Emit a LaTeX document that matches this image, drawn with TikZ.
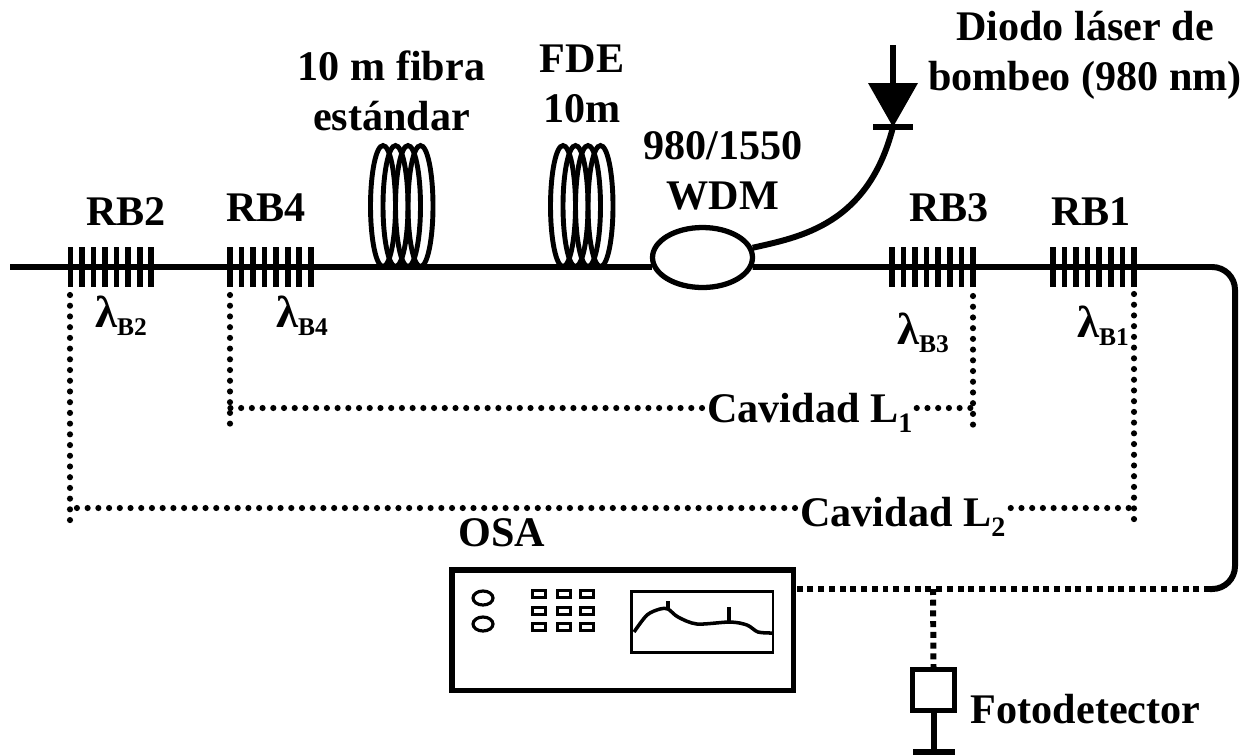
\documentclass[tikz,border=0pt]{standalone}
\usepackage{fontspec}
\setmainfont{Liberation Serif}
\usetikzlibrary{positioning,shapes.geometric,calc}
\newcommand{\subi}[1]{\raisebox{-2.1mm}{\fontsize{16}{16}\selectfont #1}}
\newcommand{\lamb}[1]{{\fontsize{25.5}{25.5}\selectfont λ}\raisebox{-1.5mm}{\fontsize{14.5}{14.5}\selectfont B#1}}

\begin{document}
\begin{tikzpicture}[
  x=0.02cm, y=-0.02cm,
  font=\fontsize{24}{28.7}\selectfont\bfseries,
  lab/.style={align=center, inner sep=0pt},
  fibra/.style={draw=black, line width=3.4pt},
  barra/.style={draw=black, line width=3.2pt},
  puntos/.style={draw=black, line width=3.5pt, line cap=round, dash pattern=on 0pt off 6.1pt},
  cuadros/.style={draw=black, line width=3.4pt, dash pattern=on 3.4pt off 2.7pt},
  espira/.style={draw=black, ellipse, line width=2.8pt, minimum width=5mm, minimum height=24.2mm, inner sep=0pt},
  boton/.style={draw=black, ellipse, line width=1.8pt, minimum width=4mm, minimum height=2.8mm, inner sep=0pt},
  tecla/.style={draw=black, line width=1.8pt, minimum width=2.6mm, minimum height=1.4mm, inner sep=0pt}
]
\useasboundingbox (0,0) rectangle (1246,755);

\coordinate (ini) at (10,267);
\coordinate (esq1) at (1235,267);
\coordinate (esq2) at (1235,589);
\coordinate (finS) at (1210,589);
\coordinate (osaS) at (796,589);
\coordinate (tee) at (933,589);
\coordinate (dioT) at (893,45);
\coordinate (dioP) at (893,127);

\node[draw=black, ellipse, line width=3pt, minimum width=20mm, minimum height=12mm, inner sep=0pt] (wdm) at (702.5,257.5) {};
\draw[fibra] (ini) -- (ini -| wdm.191);
\draw[fibra, rounded corners=13pt] (ini -| wdm.-11) -- (esq1) -- (esq2) -- (finS);
\draw[cuadros] (finS) -- (osaS);
\draw[fibra] (wdm.11) .. controls (800,237) and (868,225) .. (dioP);

\foreach \g/\x in {rb2/70.4, rb4/230, rb3/892, rb1/1053} {
  \coordinate (\g) at (\x,267);
  \foreach \i in {0,...,7} \draw[barra] ($(\g)+(\i*11.55,-20)$) -- ++(0,40);
}
\coordinate (rb2a) at (70,295);
\coordinate (rb2b) at (70,528);
\coordinate (rb4a) at (230,295);
\coordinate (rb4b) at (230,426);
\coordinate (rb3a) at (973,296);
\coordinate (rb3b) at (973,426);
\coordinate (rb1a) at (1134,294);
\coordinate (rb1b) at (1134,528);

\foreach \c/\x in {a/383, b/563} \foreach \i in {0,...,3}
  \node[espira] (\c\i) at ($(\x,206)+(\i*12.5,0)$) {};

\node[lab] (trb2) at (126,212) {RB2};
\node[lab] (trb4) at (266,208) {RB4};
\node[lab] (trb3) at (949,208) {RB3};
\node[lab] (trb1) at (1091,212) {RB1};
\node[lab] (tstd) at (391.5,91) {10 m fibra\\estándar};
\node[lab] (tfde) at (582,84) {FDE\\10m};
\node[lab] (twdm) at (723,171) {980/1550\\WDM};
\node[lab] (tdio) at (1085,55.5) {Diodo láser de\\bombeo (980 nm)};
\node[lab] (tosa) at (502,533) {OSA};
\node[lab] (tfot) at (1085.7,709) {Fotodetector};

\node[lab] (l2) at (121,316) {\lamb{2}};
\node[lab] (l4) at (302,316) {\lamb{4}};
\node[lab] (l3) at (923,333) {\lamb{3}};
\node[lab] (l1) at (1103,326) {\lamb{1}};

\node[lab, anchor=base west] (cav1) at (707,422) {Cavidad L\subi{1}};
\node[lab, anchor=base west] (cav2) at (800,526) {Cavidad L\subi{2}};

\draw[puntos] (rb2a) -- (rb2b);
\draw[puntos] (rb4a) -- (rb4b);
\draw[puntos] (rb3a) -- (rb3b);
\draw[puntos] (rb1a) -- (rb1b);
\coordinate (c1i) at ($(cav1.base west)+(-5,-14)$);
\coordinate (c1d) at ($(cav1.base east)+(4,-14)$);
\coordinate (c2i) at ($(cav2.base west)+(-5,-18)$);
\coordinate (c2d) at ($(cav2.base east)+(5,-18)$);
\draw[puntos] (c1i) -- (rb4a |- c1i);
\draw[puntos] (c1d) -- (rb3a |- c1d);
\draw[puntos] (c2i) -- (rb2a |- c2i);
\draw[puntos] (c2d) -- (rb1a |- c2d);

\draw[barra] (dioT) -- ++(0,40);
\fill[black] (868,83) -- (918,83) -- (dioP) -- cycle;
\draw[barra] (873,127) -- (913,127);

\node[draw=black, line width=3.1pt, minimum width=68.3mm, minimum height=24.1mm, inner sep=0pt] (osa) at (622.5,630) {};
\node[boton] (b1) at (483,598) {};
\node[boton] (b2) at (483,624) {};
\foreach \f/\y in {1/594, 2/611, 3/627} \foreach \k/\x in {1/539, 2/564, 3/587}
  \node[tecla] (t\f\k) at (\x,\y) {};
\node[draw=black, line width=1.7pt, minimum width=28.4mm, minimum height=12.2mm, inner sep=0pt] (pant) at (702,621.5) {};
\draw[black, line width=2pt] plot[smooth] coordinates {(634,632) (647,615) (660,609) (668,609) (678,617) (697,624) (730,622) (747,625) (758,632) (772,633)};
\draw[black, line width=2pt] (668,609) -- (668,601);
\draw[black, line width=2pt] (729,622) -- (729,607);

\node[draw=black, line width=3pt, minimum width=8.3mm, minimum height=8.15mm, inner sep=0pt] (det) at (933.5,690) {};
\coordinate (detB) at (933.5,752);
\draw[cuadros] (tee) -- (det.north);
\draw[fibra] (det.south) -- (detB);
\draw[barra] (913,752) -- (955,752);
\end{tikzpicture}
\end{document}
